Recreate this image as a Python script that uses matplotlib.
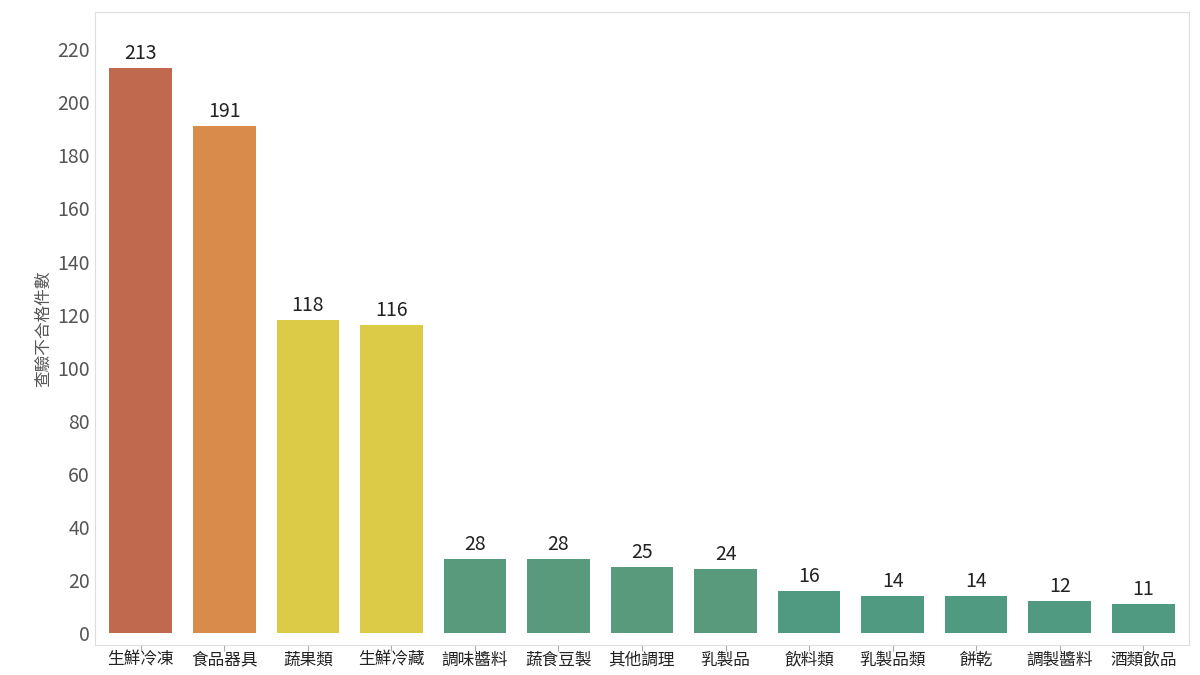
import matplotlib
matplotlib.use("Agg")
import matplotlib.pyplot as plt

plt.rcParams['font.family'] = ['Noto Sans CJK TC', 'DejaVu Sans']

categories = ["生鮮冷凍", "食品器具", "蔬果類", "生鮮冷藏", "調味醬料", "蔬食豆製", "其他調理", "乳製品", "飲料類", "乳製品類", "餅乾", "調製醬料", "酒類飲品"]
values = [213, 191, 118, 116, 28, 28, 25, 24, 16, 14, 14, 12, 11]
colors = ["#c0694e", "#d98b4c", "#dccb46", "#dccb46"] + ["#5a9a7c"] * 4 + ["#4f9a80"] * 5

fig = plt.figure(figsize=(12, 6.75), dpi=100)
ax = fig.add_axes([0.079, 0.045, 0.912, 0.937])
x = range(len(values))
ax.bar(x, values, width=0.75, color=colors)
for xi, v in zip(x, values):
    ax.text(xi, v + 1.5, str(v), ha='center', va='bottom', fontsize=14, color='#222222')
ax.set_xlim(-0.55, len(values) - 0.45)
ax.set_ylim(-4.4, 234)
ax.set_yticks(range(0, 221, 20))
ax.tick_params(axis='y', labelsize=14, colors='#555555', length=0)
ax.set_xticks(list(x))
ax.set_xticklabels(categories, fontsize=12, color='#222222')
ax.tick_params(axis='x', length=4, pad=1, colors='#aaaaaa', labelcolor='#222222')
ax.set_ylabel("查驗不合格件數", fontsize=12, color='#555555')
for s in ax.spines.values():
    s.set_color('#dddddd')
fig.savefig("out.png", dpi=100)
